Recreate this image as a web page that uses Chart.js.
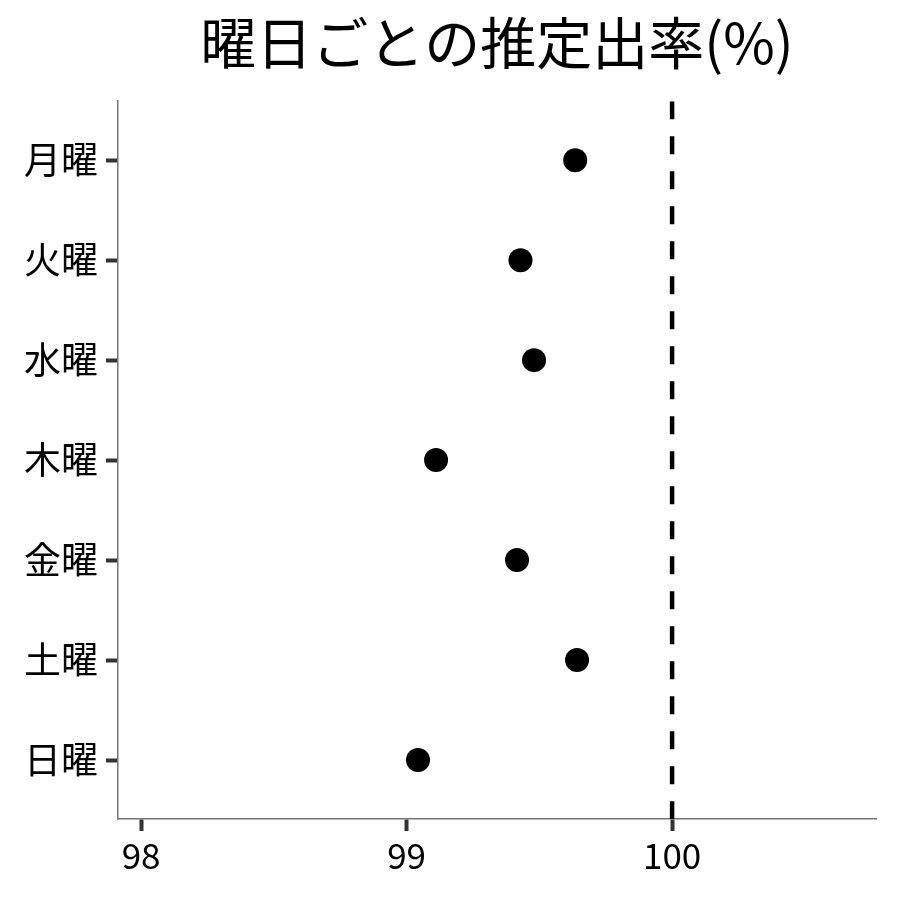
<!DOCTYPE html>
<html>
<head>
<meta charset="utf-8">
<script src="https://cdn.jsdelivr.net/npm/chart.js@4/dist/chart.umd.min.js"></script>
<style>
  html, body { margin: 0; padding: 0; background: #fff; }
  #wrap { width: 900px; height: 900px; }
</style>
</head>
<body>
<div id="wrap"><canvas id="myChart" width="900" height="900"></canvas></div>
<script>
// data
const days = ['月曜', '火曜', '水曜', '木曜', '金曜', '土曜', '日曜'];
const rates = [99.635, 99.429, 99.48, 99.111, 99.416, 99.642, 99.043];
const xTicks = [98, 99, 100];
const refLine = 100;

const FONT = '"Noto Sans CJK JP", "Noto Sans", sans-serif';

const points = days.map((d, i) => ({ x: rates[i], y: i + 1 }));
const yMin = 0.41, yMax = 7.59;

const ctx = document.getElementById('myChart').getContext('2d');
new Chart(ctx, {
    type: 'scatter',
    data: {
        datasets: [
            {
                label: 'ref',
                data: [{ x: refLine, y: yMin }, { x: refLine, y: yMax }],
                showLine: true,
                borderColor: '#000',
                borderWidth: 4.5,
                borderDash: [18, 17],
                pointRadius: 0
            },
            {
                label: '推定出率',
                data: points,
                backgroundColor: '#000',
                borderWidth: 0,
                pointRadius: 12,
                pointHoverRadius: 12
            }
        ]
    },
    options: {
        responsive: false,
        animation: false,
        layout: { padding: { left: 0, right: 24, top: 0, bottom: 0 } },
        plugins: {
            legend: { display: false },
            tooltip: { enabled: false },
            title: {
                display: true,
                fullSize: false,
                text: '曜日ごとの推定出率(%)',
                color: '#000',
                font: { family: FONT, size: 56, weight: 'normal' },
                padding: { top: 9, bottom: 25 }
            }
        },
        scales: {
            x: {
                type: 'linear',
                min: 97.913,
                max: 100.768,
                afterBuildTicks: s => { s.ticks = xTicks.map(v => ({ value: v })); },
                afterFit: s => { s.height = 81; },
                grid: {
                    display: true,
                    drawOnChartArea: false,
                    tickLength: 12,
                    tickWidth: 4,
                    tickColor: '#333'
                },
                border: { display: true, color: '#777', width: 1.5 },
                ticks: {
                    color: '#000',
                    padding: 4,
                    font: { family: FONT, size: 35 }
                }
            },
            y: {
                type: 'linear',
                reverse: true,
                min: yMin,
                max: yMax,
                afterBuildTicks: s => { s.ticks = days.map((d, i) => ({ value: i + 1 })); },
                afterFit: s => { s.width = 118; },
                grid: {
                    display: true,
                    drawOnChartArea: false,
                    tickLength: 12,
                    tickWidth: 4,
                    tickColor: '#333'
                },
                border: { display: true, color: '#777', width: 1.5 },
                ticks: {
                    color: '#000',
                    padding: 8,
                    font: { family: FONT, size: 37 },
                    callback: v => days[v - 1]
                }
            }
        }
    }
});
</script>
</body>
</html>
